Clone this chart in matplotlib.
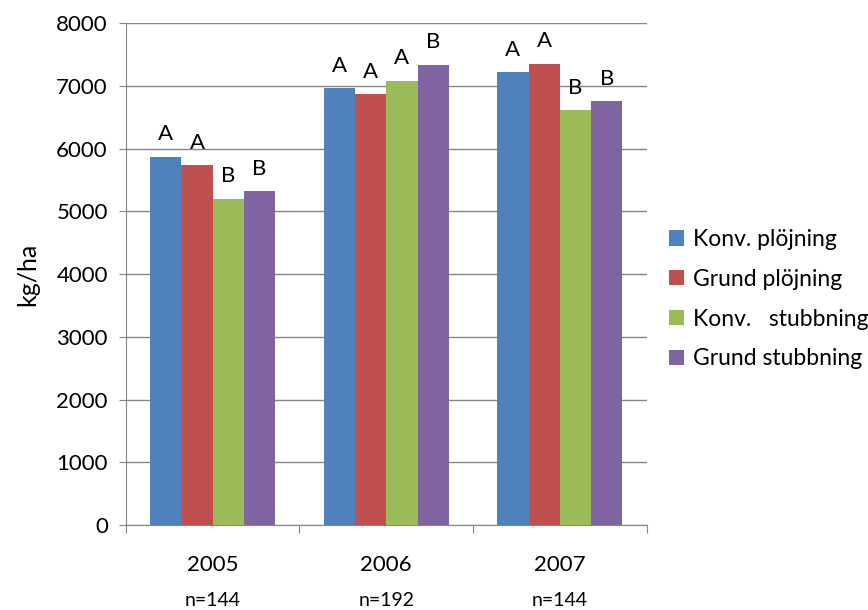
import numpy as np
import matplotlib
matplotlib.use("Agg")
import matplotlib.pyplot as plt

plt.rcParams['font.family'] = ['Lato', 'DejaVu Sans']

years = ['2005', '2006', '2007']
n_obs = ['n=144', 'n=192', 'n=144']
treatments = ['Konv. plöjning', 'Grund plöjning', 'Konv.   stubbning', 'Grund stubbning']

# yield per treatment, one value per year
konv_plojning = [5870, 6960, 7220]
grund_plojning = [5735, 6865, 7355]
konv_stubbning = [5200, 7080, 6610]
grund_stubbning = [5320, 7340, 6755]

# significance groups shown above each bar
konv_plojning_grp = ['A', 'A', 'A']
grund_plojning_grp = ['A', 'A', 'A']
konv_stubbning_grp = ['B', 'A', 'B']
grund_stubbning_grp = ['B', 'B', 'B']

series = [konv_plojning, grund_plojning, konv_stubbning, grund_stubbning]
groups = [konv_plojning_grp, grund_plojning_grp, konv_stubbning_grp, grund_stubbning_grp]
colors = ['#4F81BD', '#C0504D', '#9BBB59', '#8064A2']

fig = plt.figure(figsize=(8.68, 6.1), dpi=100)
ax = fig.add_axes([0.145, 0.139, 0.600, 0.823])

x = np.arange(len(years))
width = 0.18
for i, (vals, grp, col, lab) in enumerate(zip(series, groups, colors, treatments)):
    pos = x + (i - 1.5) * width
    bars = ax.bar(pos, vals, width, color=col, label=lab, zorder=3)
    for b, g in zip(bars, grp):
        ax.annotate(g, (b.get_x() + b.get_width() / 2, b.get_height()),
                    xytext=(0, 9), textcoords='offset points',
                    ha='center', va='bottom', fontsize=16)

ax.set_xlim(-0.5, 2.5)
ax.set_ylim(0, 8000)
ax.set_yticks(np.arange(0, 8001, 1000))
ax.tick_params(axis='y', labelsize=16, length=5, color='#868686', pad=8)
ax.yaxis.grid(True, color='#868686', linewidth=1, zorder=0)
ax.set_ylabel('kg/ha', fontsize=18, labelpad=12)

# category boundary ticks on the x axis
ax.set_xticks([-0.5, 0.5, 1.5, 2.5])
ax.set_xticklabels([])
ax.tick_params(axis='x', length=6, color='#868686', direction='out')
for xi, yr, n in zip(x, years, n_obs):
    ax.text(xi, -0.08, yr, transform=ax.get_xaxis_transform(),
            ha='center', va='center', fontsize=16)
    ax.text(xi, -0.15, n, transform=ax.get_xaxis_transform(),
            ha='center', va='center', fontsize=14)

for side in ['top', 'right']:
    ax.spines[side].set_visible(False)
for side in ['left', 'bottom']:
    ax.spines[side].set_color('#868686')

ax.legend(loc='center left', bbox_to_anchor=(1.025, 0.45), frameon=False,
          fontsize=16.5, handlelength=0.65, handleheight=0.65,
          handletextpad=0.4, labelspacing=0.82, borderaxespad=0)

fig.savefig('out.png', dpi=100)
